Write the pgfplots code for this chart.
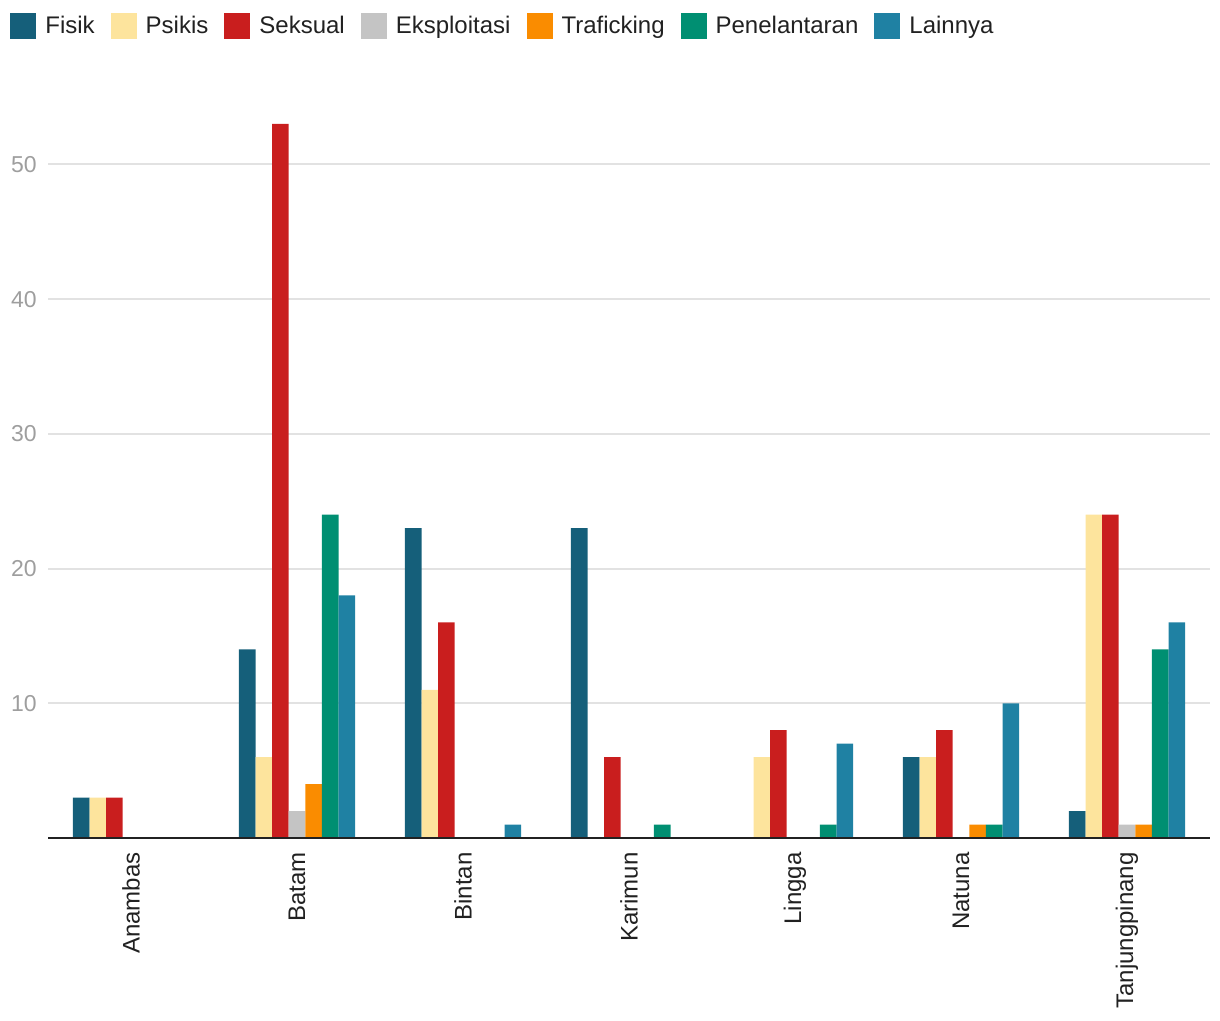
\documentclass[border=0pt]{standalone}
\usepackage{pgfplots}
\pgfplotsset{compat=1.18}
\usepackage{fontspec}
\setmainfont{Liberation Sans}
\definecolor{cFisik}{HTML}{155F7A}
\definecolor{cPsikis}{HTML}{FDE49D}
\definecolor{cSeksual}{HTML}{C91E1E}
\definecolor{cEks}{HTML}{C4C4C4}
\definecolor{cTraf}{HTML}{FA8C00}
\definecolor{cPen}{HTML}{008F72}
\definecolor{cLain}{HTML}{1F81A3}
\definecolor{gridc}{HTML}{E2E2E2}
\definecolor{tickc}{HTML}{9E9E9E}
\definecolor{textc}{HTML}{212121}
\begin{document}
\begin{tikzpicture}
\begin{axis}[
  scale only axis,
  width=581pt, height=370.5pt,
  xmin=-0.5, xmax=6.5, ymin=0, ymax=55,
  clip=false,
  ybar, bar width=0.1,
  axis line style={draw=none},
  axis x line*=bottom,
  axis y line*=left,
  xtick={0,...,6},
  xticklabels={Anambas,Batam,Bintan,Karimun,Lingga,Natuna,Tanjungpinang},
  xticklabel style={rotate=90, anchor=east, text=textc, font=\fontsize{12}{14}\selectfont, inner sep=0pt, xshift=-7pt},
  ytick={10,20,30,40,50},
  yticklabel style={text=tickc, font=\fontsize{11.5}{14}\selectfont, inner sep=0pt, xshift=-5.5pt},
  /pgf/number format/assume math mode=true,
  major tick length=0pt,
  ymajorgrids, grid style={draw=gridc, line width=1pt},
  legend columns=-1,
  legend style={draw=none, fill=none, at={(-0.0327,1.0958)}, anchor=west, inner sep=0pt,
    font=\fontsize{12}{14}\selectfont, text=textc,
    /tikz/every even column/.append style={column sep=6pt},
    /tikz/every odd column/.append style={column sep=2.5pt}},
  legend image code/.code={\fill[#1] (0pt,-6.5pt) rectangle (13pt,6.5pt);},
  every axis plot/.append style={draw=none},
]
\addplot[fill=cFisik, bar shift=-0.3] coordinates {(0,3) (1,14) (2,23) (3,23) (4,0) (5,6) (6,2)};
\addplot[fill=cPsikis, bar shift=-0.2] coordinates {(0,3) (1,6) (2,11) (3,0) (4,6) (5,6) (6,24)};
\addplot[fill=cSeksual, bar shift=-0.1] coordinates {(0,3) (1,53) (2,16) (3,6) (4,8) (5,8) (6,24)};
\addplot[fill=cEks, bar shift=0] coordinates {(0,0) (1,2) (2,0) (3,0) (4,0) (5,0) (6,1)};
\addplot[fill=cTraf, bar shift=0.1] coordinates {(0,0) (1,4) (2,0) (3,0) (4,0) (5,1) (6,1)};
\addplot[fill=cPen, bar shift=0.2] coordinates {(0,0) (1,24) (2,0) (3,1) (4,1) (5,1) (6,14)};
\addplot[fill=cLain, bar shift=0.3] coordinates {(0,0) (1,18) (2,1) (3,0) (4,7) (5,10) (6,16)};
\legend{Fisik,Psikis,Seksual,Eksploitasi,Traficking,Penelantaran,Lainnya}
\draw[line width=1pt, textc] (rel axis cs:0,0) -- (rel axis cs:1,0);
\path ([xshift=-24pt,yshift=-91pt]rel axis cs:0,0) rectangle ([xshift=5pt,yshift=48.5pt]rel axis cs:1,1);
\end{axis}
\end{tikzpicture}
\end{document}
